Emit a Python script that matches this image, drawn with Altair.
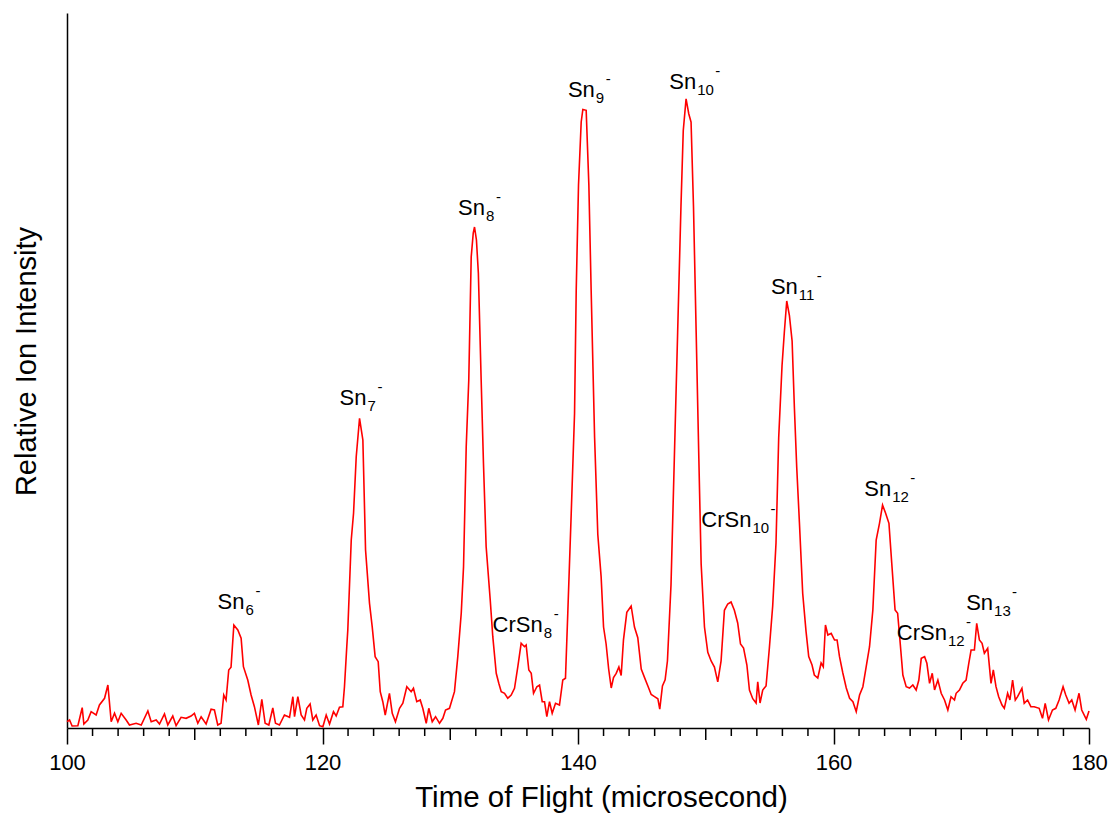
import altair as alt
import pandas as pd

# Time of flight (microsecond) and relative ion intensity
time_us = [
    100.0, 100.2, 100.4, 100.85, 101.19, 101.32, 101.63, 101.89, 102.28, 102.54, 102.94, 103.2,
    103.46, 103.72, 103.98, 104.24, 104.63, 104.89, 105.41, 105.81, 106.33, 106.59, 106.98,
    107.24, 107.63, 107.89, 108.28, 108.54, 108.93, 109.32, 109.71, 109.97, 110.24, 110.5,
    110.89, 111.28, 111.54, 111.8, 112.06, 112.27, 112.45, 112.66, 112.84, 113.06, 113.37,
    113.63, 113.81, 114.15, 114.41, 114.67, 114.98, 115.25, 115.51, 115.8, 116.11, 116.32,
    116.63, 117.02, 117.42, 117.68, 117.81, 118.07, 118.33, 118.59, 118.77, 119.03, 119.24,
    119.5, 119.77, 120.03, 120.29, 120.55, 120.86, 121.07, 121.33, 121.59, 121.72, 121.9,
    121.98, 122.25, 122.43, 122.64, 122.9, 123.16, 123.37, 123.68, 123.89, 124.12, 124.36,
    124.52, 124.72, 124.91, 125.24, 125.46, 125.71, 126.03, 126.29, 126.6, 126.94, 127.12,
    127.38, 127.65, 127.85, 128.12, 128.32, 128.59, 128.85, 129.16, 129.42, 129.63, 129.94,
    130.33, 130.59, 130.86, 131.04, 131.25, 131.45, 131.64, 131.8, 131.9, 132.05, 132.2,
    132.42, 132.6, 132.81, 133.13, 133.33, 133.6, 133.8, 133.99, 134.25, 134.5, 134.77,
    135.03, 135.29, 135.55, 135.81, 135.94, 136.15, 136.34, 136.52, 136.78, 136.99, 137.2,
    137.38, 137.56, 137.77, 137.98, 138.24, 138.55, 138.81, 139.02, 139.2, 139.47, 139.73,
    139.86, 140.04, 140.25, 140.38, 140.64, 140.85, 141.03, 141.3, 141.55, 141.81, 142.0,
    142.2, 142.4, 142.6, 142.78, 142.99, 143.2, 143.38, 143.56, 143.82, 144.16, 144.42,
    144.68, 144.95, 145.21, 145.47, 145.73, 145.99, 146.25, 146.4, 146.61, 146.82, 147.0,
    147.28, 147.54, 147.8, 148.06, 148.24, 148.46, 148.67, 148.85, 149.04, 149.25, 149.46,
    149.64, 149.9, 150.16, 150.42, 150.68, 150.94, 151.2, 151.46, 151.72, 151.98, 152.24,
    152.5, 152.72, 152.96, 153.22, 153.42, 153.68, 153.94, 154.07, 154.25, 154.46, 154.72,
    154.98, 155.24, 155.5, 155.71, 155.97, 156.15, 156.34, 156.55, 156.76, 156.94, 157.12,
    157.33, 157.59, 157.85, 158.06, 158.32, 158.5, 158.77, 159.03, 159.2, 159.37, 159.56,
    159.82, 160.08, 160.28, 160.47, 160.73, 161.0, 161.26, 161.52, 161.78, 162.04, 162.3,
    162.56, 162.82, 163.08, 163.34, 163.6, 163.84, 164.08, 164.34, 164.56, 164.82, 165.02,
    165.2, 165.43, 165.69, 165.95, 166.21, 166.47, 166.68, 166.87, 167.13, 167.31, 167.52,
    167.73, 167.91, 168.17, 168.43, 168.69, 168.95, 169.2, 169.47, 169.6, 169.86, 170.12,
    170.38, 170.59, 170.77, 171.03, 171.21, 171.42, 171.63, 171.81, 172.07, 172.33, 172.51,
    172.72, 172.93, 173.19, 173.37, 173.63, 173.81, 174.02, 174.23, 174.41, 174.75, 174.93,
    175.19, 175.45, 175.71, 176.1, 176.36, 176.57, 176.83, 177.14, 177.4, 177.66, 177.97,
    178.18, 178.44, 178.65, 178.91, 179.22, 179.43, 179.79, 180.0,
]
intensity = [
    6.3, 8, 2, 2.3, 20.3, 4, 8, 16.3, 13, 23, 29.7, 43,
    6.3, 14.7, 6.3, 14.7, 8, 3, 4.7, 3, 17, 6.3, 8,
    4, 14, 3, 12, 2.3, 10.7, 9.7, 12, 14.7, 4.7, 11.3,
    4, 18.7, 18, 3, 4.7, 33, 28, 58, 60.7, 103, 98,
    89.7, 61.3, 48, 33, 21.3, 3, 28.7, 4.7, 3, 20, 4.7,
    3, 13, 10.7, 31.3, 11.3, 31.3, 13, 8, 19.7, 24, 8,
    13, 2.3, 1.3, 13, 4, 16.3, 12, 20.7, 21.3, 41.3, 81.3,
    98, 188, 214.7, 271.3, 309.7, 288, 178, 124.7, 101.3, 71.3, 66.3,
    36.3, 26.3, 13, 34.7, 14.7, 6.3, 19.7, 24.7, 41.3, 36.3, 39.7,
    26.3, 28, 19.7, 4.7, 19.7, 6.3, 11.3, 4.7, 9.7, 18, 19.7,
    36.3, 71.3, 114.7, 161.3, 281.3, 348, 471, 495, 501, 488, 455,
    348, 264.7, 181.3, 128, 91.3, 54.7, 44.7, 36.3, 34.7, 29.7, 33,
    39.7, 61.3, 84.7, 81.3, 83, 58, 54.7, 34.7, 41.3, 43, 26.3,
    26.3, 11.3, 26.3, 14.7, 24.7, 23, 48, 49.7, 114.7, 214.7, 314.7,
    437.6, 543, 606, 618.5, 617.7, 543, 437.6, 290.3, 193.5, 151.4, 101,
    84, 59, 40, 50.4, 54.6, 61, 52.5, 88.2, 115.6, 122, 101,
    90.3, 59, 50.4, 42, 33.5, 31.4, 29.3, 18.8, 42, 48.2, 67,
    143, 269.2, 395.5, 521.7, 597.5, 629.1, 614.3, 606, 521.7, 395.5, 269.2,
    164, 101, 75.6, 67, 61, 46.1, 67, 117.7, 124, 126, 117.7,
    105, 84, 80, 63, 38, 29.3, 25, 46.1, 25, 38, 42,
    80, 122, 185, 290.3, 362, 395.5, 427, 412.3, 387, 319.8, 261,
    206, 134.5, 96.6, 71.4, 63, 53, 50, 65, 61.3, 103, 93,
    94.7, 88, 88, 71.3, 55, 40, 29.7, 26.3, 16.3, 33, 41.3,
    61.3, 81.3, 118, 188, 204.7, 223, 214.7, 204.7, 164.7, 118, 114.7,
    88, 53, 41.3, 40, 43, 38, 48, 69.7, 71.3, 64.7, 44.7,
    54.7, 38, 48, 34.7, 28, 18, 31.3, 28, 34.7, 38, 44.7,
    48, 64.7, 78, 78, 104.7, 88, 84.7, 74.7, 79.7, 44.7, 58,
    41.3, 31.3, 23, 19.7, 34.7, 28, 48, 28, 31.3, 39.7, 24.7,
    28, 21.3, 21.3, 19.7, 9.7, 24.7, 8, 18, 19.7, 28, 41.3,
    33, 24.7, 28, 18, 34.7, 18, 8.7, 17,
]

# Peak labels: main text, subscript, anchor (time, intensity) at end of main text / baseline
label_main = ["Sn", "Sn", "Sn", "CrSn", "Sn", "Sn", "CrSn", "Sn", "Sn", "CrSn", "Sn"]
label_sub = ["6", "7", "8", "8", "9", "10", "10", "11", "12", "12", "13"]
label_x = [113.89, 123.44, 132.72, 137.24, 141.32, 149.25, 153.58, 157.21, 164.52, 168.88, 172.49]
label_y = [119, 323, 513, 96, 631, 639, 201, 434, 232, 88, 118]

major_ticks = [100, 120, 140, 160, 180]
mid_ticks = [110, 130, 150, 170]
minor_ticks = [v for v in range(102, 180, 2) if v % 10 != 0]

FONT = "Liberation Sans"
W, H = 1022, 715

spec = pd.DataFrame({"t": time_us, "i": intensity})
labels = pd.DataFrame({"main": label_main, "sub": label_sub, "x": label_x, "y": label_y})
labels["nd"] = labels["sub"].str.len()

xscale = alt.Scale(domain=[100, 180], nice=False, zero=False)
yscale = alt.Scale(domain=[0, 715], nice=False, zero=True)

line = alt.Chart(spec).mark_line(color="#ff0000", strokeWidth=1.6).encode(
    x=alt.X("t:Q", scale=xscale,
            axis=alt.Axis(values=major_ticks, tickSize=16, labelPadding=8, grid=False,
                          labelFlush=False, labelOverlap=False,
                          title="Time of Flight (microsecond)", titlePadding=10,
                          titleX=534, titleFontSize=29.5, format="d")),
    y=alt.Y("i:Q", scale=yscale,
            axis=alt.Axis(ticks=False, labels=False, grid=False,
                          title="Relative Ion Intensity", titlePadding=26,
                          titleY=348, titleFontSize=29)),
)

minor = alt.Chart(pd.DataFrame({"v": minor_ticks})).mark_rule(color="black", strokeWidth=1.5).encode(
    x=alt.X("v:Q", scale=xscale), y=alt.value(H), y2=alt.value(H + 8))
mid = alt.Chart(pd.DataFrame({"v": mid_ticks})).mark_rule(color="black", strokeWidth=1.5).encode(
    x=alt.X("v:Q", scale=xscale), y=alt.value(H), y2=alt.value(H + 12))

base = alt.Chart(labels)
t_main = base.mark_text(align="right", baseline="alphabetic", font=FONT, fontSize=22, color="black").encode(
    x=alt.X("x:Q", scale=xscale), y=alt.Y("y:Q", scale=yscale), text="main:N")
t_sub = base.mark_text(align="left", baseline="alphabetic", font=FONT, fontSize=15, dx=1, dy=6, color="black").encode(
    x=alt.X("x:Q", scale=xscale), y=alt.Y("y:Q", scale=yscale), text="sub:N")
t_sup1 = base.transform_filter("datum.nd == 1").mark_text(
    align="left", baseline="alphabetic", font=FONT, fontSize=15, dx=11, dy=-13, color="black").encode(
    x=alt.X("x:Q", scale=xscale), y=alt.Y("y:Q", scale=yscale), text=alt.value("-"))
t_sup2 = base.transform_filter("datum.nd == 2").mark_text(
    align="left", baseline="alphabetic", font=FONT, fontSize=15, dx=19, dy=-13, color="black").encode(
    x=alt.X("x:Q", scale=xscale), y=alt.Y("y:Q", scale=yscale), text=alt.value("-"))

chart = alt.layer(line, minor, mid, t_main, t_sub, t_sup1, t_sup2).properties(
    width=W, height=H,
    autosize=alt.AutoSizeParams(type="none"),
    padding={"left": 67, "top": 13, "right": 23, "bottom": 90},
).configure_view(stroke=None).configure_axis(
    domainColor="black", domainWidth=1.5, tickColor="black", tickWidth=1.5,
    labelFont=FONT, labelFontSize=22, labelColor="black",
    titleFont=FONT, titleFontSize=28, titleFontWeight="normal", titleColor="black",
)

chart.save("out.html", embed_options={"renderer": "svg", "actions": False})
